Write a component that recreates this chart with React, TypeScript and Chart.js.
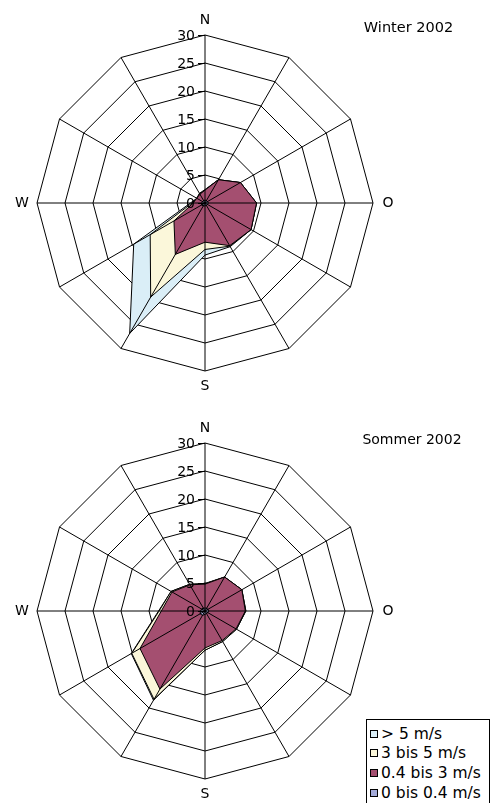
import React, { useEffect, useRef } from 'react';
import { Chart, registerables } from 'chart.js';

Chart.register(...registerables);

// ---- data ----
const DIRECTIONS = ['N', '', '', 'O', '', '', 'S', '', '', 'W', '', ''];
const TICKS = [0, 5, 10, 15, 20, 25, 30];
const SERIES_NAMES = ['0 bis 0.4 m/s', '0.4 bis 3 m/s', '3 bis 5 m/s', '> 5 m/s'];
const SERIES_COLORS = ['#A3AAD8', '#A44F70', '#FBF7DA', '#DAEEF7'];

// Winter 2002 (cumulative per class, N clockwise in 30° steps)
const winterCalm = [0.5, 0.5, 0.5, 0.6, 0.5, 0.5, 0.5, 0.6, 0.7, 0.6, 0.5, 0.5];
const winterLow = [2.3, 4.8, 7.3, 9.2, 9.5, 8.8, 7.0, 10.6, 6.4, 2.1, 1.7, 1.8];
const winterMid = [2.3, 4.8, 7.3, 9.2, 9.5, 8.9, 8.3, 19.4, 11.3, 2.3, 1.7, 1.9];
const winterHigh = [2.4, 4.8, 7.3, 9.2, 9.5, 9.0, 9.3, 26.9, 14.7, 2.6, 1.7, 2.0];

// Sommer 2002
const summerCalm = [0.5, 0.6, 0.6, 0.7, 0.6, 0.5, 0.6, 0.9, 1.0, 0.8, 0.7, 0.6];
const summerLow = [4.8, 7.0, 7.6, 7.2, 6.4, 6.1, 6.6, 16.1, 13.4, 7.8, 6.8, 5.4];
const summerMid = [4.9, 7.0, 7.6, 7.3, 6.5, 6.3, 7.0, 18.2, 15.1, 8.2, 7.0, 5.5];
const summerHigh = [4.9, 7.0, 7.6, 7.3, 6.5, 6.3, 7.0, 18.4, 15.2, 8.3, 7.0, 5.5];

const FONT = '"DejaVu Sans", Verdana, sans-serif';

function makeOverlay(title: string, titleCx: number, titleY: number, titleSize: number) {
  return {
    id: 'overlay',
    afterDatasetsDraw(chart: any) {
      const s = chart.scales.r;
      const ctx = chart.ctx as CanvasRenderingContext2D;
      ctx.save();
      ctx.strokeStyle = '#000';
      ctx.lineWidth = 1;
      for (let i = 0; i < DIRECTIONS.length; i++) {
        const p = s.getPointPosition(i, s.drawingArea);
        ctx.beginPath();
        ctx.moveTo(s.xCenter, s.yCenter);
        ctx.lineTo(p.x, p.y);
        ctx.stroke();
      }
      ctx.restore();
    },
    afterDraw(chart: any) {
      const s = chart.scales.r;
      const ctx = chart.ctx as CanvasRenderingContext2D;
      ctx.save();
      ctx.strokeStyle = '#000';
      ctx.fillStyle = '#000';
      ctx.lineWidth = 1;
      ctx.font = `14px ${FONT}`;
      ctx.textAlign = 'right';
      ctx.textBaseline = 'middle';
      for (const v of TICKS) {
        const y = s.yCenter - s.getDistanceFromCenterForValue(v);
        ctx.beginPath();
        ctx.moveTo(s.xCenter - 7, y + 0.5);
        ctx.lineTo(s.xCenter, y + 0.5);
        ctx.stroke();
        ctx.fillText(String(v), s.xCenter - 10, y + 1);
      }
      ctx.textAlign = 'center';
      for (let i = 0; i < DIRECTIONS.length; i++) {
        if (!DIRECTIONS[i]) continue;
        const p = s.getPointPosition(i, s.drawingArea + 15);
        ctx.fillText(DIRECTIONS[i], p.x, p.y);
      }
      ctx.font = `${titleSize}px ${FONT}`;
      ctx.fillText(title, titleCx, titleY);
      ctx.restore();
    },
  };
}

function RadarPanel(props: {
  title: string;
  series: number[][];
  top: number;
  height: number;
  padTop: number;
  titleCx: number;
  titleY: number;
  titleSize: number;
}) {
  const ref = useRef<HTMLCanvasElement>(null);
  useEffect(() => {
    if (!ref.current) return;
    const padLeft = 37;
    const size = 336;
    const chart = new Chart(ref.current, {
      type: 'radar',
      data: {
        labels: DIRECTIONS,
        datasets: props.series.map((d, i) => ({
          label: SERIES_NAMES[i],
          data: d,
          backgroundColor: SERIES_COLORS[i],
          borderColor: '#000',
          borderWidth: 1,
          pointRadius: 0,
          pointHoverRadius: 0,
          fill: 'origin',
          tension: 0,
        })),
      },
      options: {
        responsive: false,
        maintainAspectRatio: false,
        animation: false,
        events: [],
        layout: {
          padding: {
            left: padLeft,
            right: 492 - padLeft - size,
            top: props.padTop,
            bottom: props.height - props.padTop - size,
          },
        },
        plugins: {
          legend: { display: false },
          tooltip: { enabled: false },
          title: { display: false },
        },
        scales: {
          r: {
            min: 0,
            max: 30,
            ticks: { stepSize: 5, display: false },
            grid: { color: '#000', lineWidth: 1, circular: false },
            angleLines: { display: false },
            pointLabels: { display: false },
          },
        },
      },
      plugins: [makeOverlay(props.title, props.titleCx, props.titleY, props.titleSize)],
    } as any);
    return () => chart.destroy();
  }, []);
  return (
    <canvas
      ref={ref}
      width={492}
      height={props.height}
      style={{ position: 'absolute', left: 0, top: props.top, width: 492, height: props.height }}
    />
  );
}

function Legend() {
  const order = [3, 2, 1, 0];
  return (
    <div
      style={{
        position: 'absolute',
        left: 366,
        top: 719,
        width: 122,
        height: 95,
        border: '1px solid #000',
        background: '#fff',
        fontFamily: FONT,
        fontSize: 15.5,
        color: '#000',
      }}
    >
      {order.map((idx, k) => (
        <div
          key={idx}
          style={{
            position: 'absolute',
            left: 0,
            top: 4 + k * 19.7,
            height: 19,
            display: 'flex',
            alignItems: 'center',
            whiteSpace: 'nowrap',
          }}
        >
          <span
            style={{
              display: 'inline-block',
              flexShrink: 0,
              boxSizing: 'border-box',
              width: 8,
              height: 8,
              marginLeft: 3,
              marginRight: 3,
              border: '1px solid #000',
              background: SERIES_COLORS[idx],
            }}
          />
          <span>{SERIES_NAMES[idx]}</span>
        </div>
      ))}
    </div>
  );
}

export default function App() {
  return (
    <div
      style={{
        position: 'absolute',
        left: 0,
        top: 0,
        width: 492,
        height: 803,
        overflow: 'hidden',
        background: '#fff',
      }}
    >
      <RadarPanel
        title="Winter 2002"
        series={[winterCalm, winterLow, winterMid, winterHigh]}
        top={0}
        height={402}
        padTop={35}
        titleCx={408.5}
        titleY={28}
        titleSize={14.5}
      />
      <RadarPanel
        title="Sommer 2002"
        series={[summerCalm, summerLow, summerMid, summerHigh]}
        top={402}
        height={401}
        padTop={41}
        titleCx={412}
        titleY={38}
        titleSize={14}
      />
      <Legend />
    </div>
  );
}
